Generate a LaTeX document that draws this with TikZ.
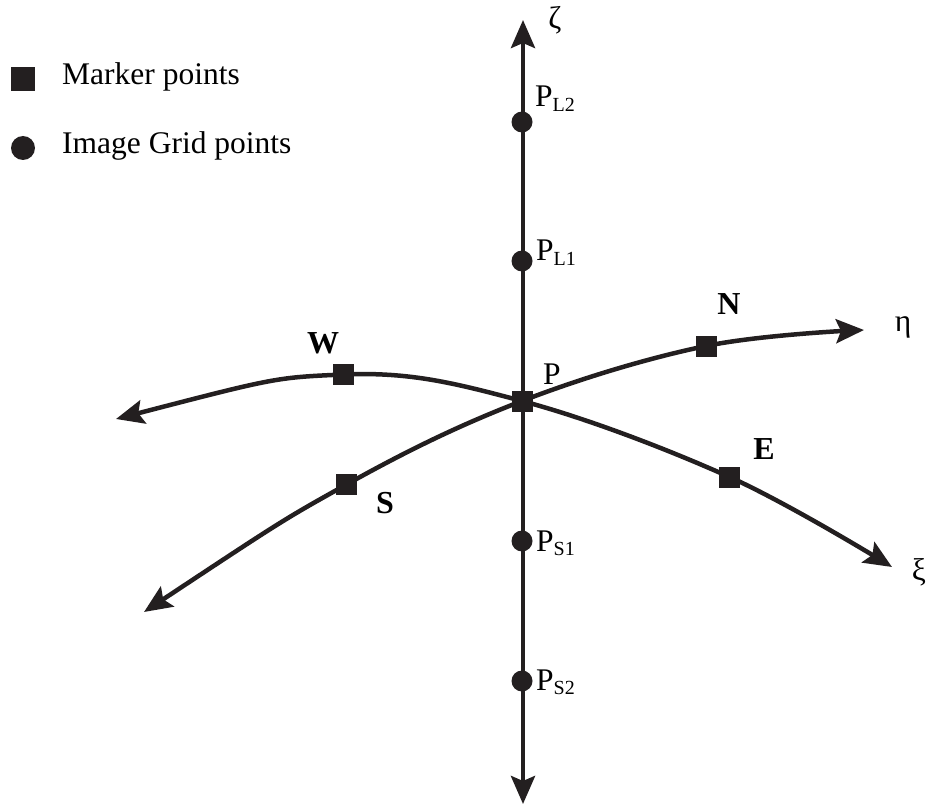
\documentclass[tikz,border=0pt]{standalone}
\usepackage{fontspec}
\setmainfont{Liberation Serif}
\usetikzlibrary{arrows.meta,backgrounds}
\definecolor{ink}{HTML}{231F20}
\tikzset{
  mk/.style={draw=none,fill=ink,minimum size=21pt,inner sep=0pt,rectangle},
  gp/.style={draw=none,fill=ink,minimum size=21pt,inner sep=0pt,circle},
  tip/.tip={Stealth[length=28pt,width=24pt,inset=5pt]},
  axis/.style={line width=4.5pt,draw=ink,tip-tip},
  lbl/.style={inner sep=0pt,anchor=base,font=\fontsize{31.5}{36}\selectfont},
  blbl/.style={lbl,font=\fontsize{32}{36}\selectfont\bfseries},
  plbl/.style={inner sep=0pt,anchor=base west,font=\fontsize{31.5}{36}\selectfont},
}
\newcommand{\subx}[1]{\raisebox{-4.5pt}{\fontsize{20}{22}\selectfont #1}}
\begin{document}
\begin{tikzpicture}[x=1pt,y=-1pt]
\useasboundingbox (0,0) rectangle (927,805);
% legend
\node[mk,minimum size=24pt] (legsq) at (23,79) {};
\node[plbl] (legsqt) at (62,85) {Marker points};
\node[gp,minimum size=24pt] (legci) at (23,148) {};
\node[plbl] (legcit) at (62,154) {Image Grid points};
% axis end coordinates
\coordinate (ztop) at (523,20);
\coordinate (zbot) at (523,804);
\coordinate (xiL) at (116,419);
\coordinate (xiR) at (892,567);
\coordinate (etL) at (144,612);
\coordinate (etR) at (864,330);
% points
\node[mk] (P) at (522,401) {};
\node[mk] (W) at (343.5,374.5) {};
\node[mk] (N) at (706,346) {};
\node[mk] (E) at (729.5,477) {};
\node[mk] (S) at (346.5,484.5) {};
\node[gp] (PL2) at (522,122) {};
\node[gp] (PL1) at (522,261) {};
\node[gp] (PS1) at (522,541) {};
\node[gp] (PS2) at (522,681) {};
% curves
\begin{scope}[on background layer]
\draw[axis] (zbot) -- (ztop);
\draw[axis] plot[smooth,tension=0.6] coordinates {(xiL) (W.center) (P.center) (E.center) (xiR)};
\draw[axis] plot[smooth,tension=0.6] coordinates {(etL) (S.center) (P.center) (N.center) (etR)};
\end{scope}
% labels
\node[lbl] (zeta) at (555,29) {ζ};
\node[lbl] (eta) at (903,331) {η};
\node[lbl] (xi) at (919,580) {ξ};
\node[blbl] (Wl) at (323,353) {W};
\node[blbl] (Nl) at (729,315) {N};
\node[blbl] (El) at (764,459) {E};
\node[blbl] (Sl) at (385,513) {S};
\node[plbl] (Pl) at (543,384) {P};
\node[plbl] (PL2l) at (535,107) {P\subx{L2}};
\node[plbl] (PL1l) at (536,261) {P\subx{L1}};
\node[plbl] (PS1l) at (536,551) {P\subx{S1}};
\node[plbl] (PS2l) at (536,690) {P\subx{S2}};
\end{tikzpicture}
\end{document}
